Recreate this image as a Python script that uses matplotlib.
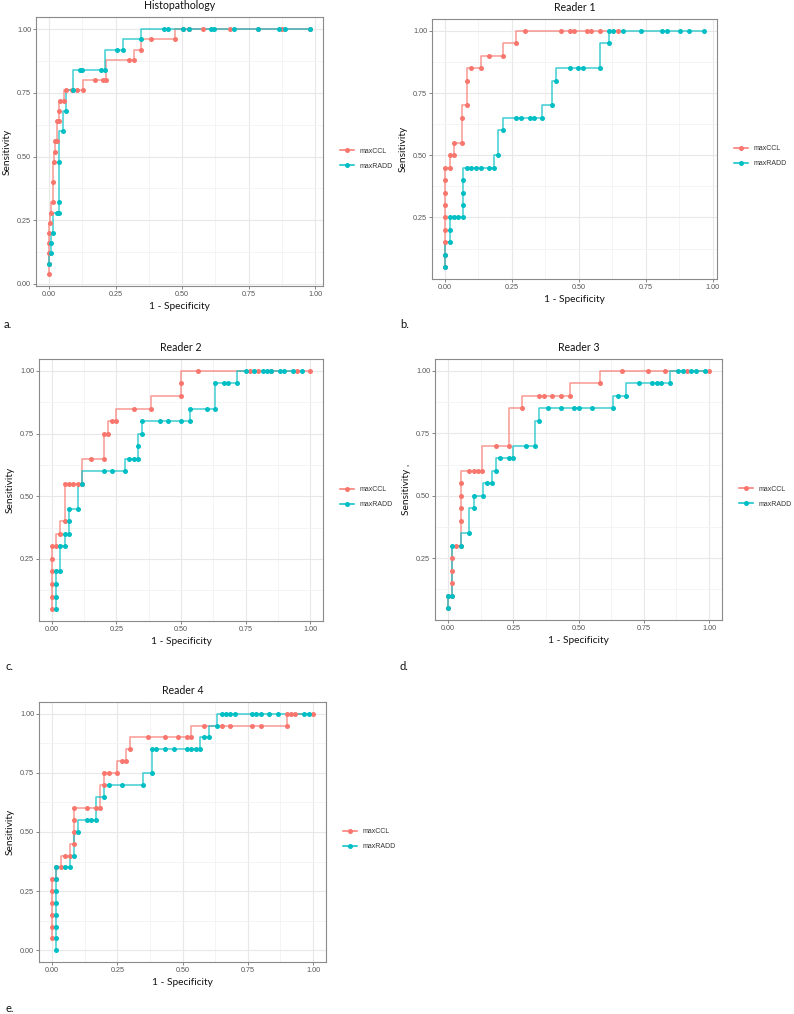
import matplotlib
matplotlib.use("Agg")
import matplotlib.pyplot as plt
from matplotlib.lines import Line2D
import numpy as np

# ---- data (1 - specificity, sensitivity) ----
hist_ccl_x = [0, 0, 0, 0, 0, 0.005, 0.008, 0.013, 0.015, 0.02, 0.021, 0.024, 0.028, 0.031, 0.036,
              0.036, 0.04, 0.055, 0.063, 0.086, 0.105, 0.127, 0.174, 0.203, 0.215, 0.30, 0.32,
              0.347, 0.384, 0.474, 0.503, 0.524, 0.578, 0.68, 0.786, 0.874, 0.98]
hist_ccl_y = [0.04, 0.08, 0.12, 0.16, 0.20, 0.24, 0.28, 0.32, 0.40, 0.48, 0.52, 0.56, 0.56, 0.64, 0.64,
              0.68, 0.72, 0.72, 0.76, 0.76, 0.76, 0.76, 0.80, 0.80, 0.80, 0.88, 0.88,
              0.92, 0.96, 0.96, 1, 1, 1, 1, 1, 1, 1]
hist_radd_x = [0, 0.006, 0.009, 0.014, 0.031, 0.036, 0.036, 0.036, 0.051, 0.065, 0.091, 0.118, 0.122,
               0.197, 0.209, 0.257, 0.279, 0.347, 0.433, 0.446, 0.503, 0.524, 0.608, 0.62, 0.696,
               0.786, 0.865, 0.886, 0.98]
hist_radd_y = [0.08, 0.12, 0.16, 0.20, 0.28, 0.28, 0.32, 0.48, 0.60, 0.68, 0.76, 0.84, 0.84,
               0.84, 0.84, 0.92, 0.92, 0.96, 1, 1, 1, 1, 1, 1, 1, 1, 1, 1, 1]

r1_ccl_x = [0, 0, 0, 0, 0, 0, 0, 0, 0, 0.017, 0.017, 0.033, 0.033, 0.065, 0.065, 0.084, 0.084,
            0.099, 0.133, 0.164, 0.216, 0.265, 0.30, 0.432, 0.465, 0.481, 0.53, 0.546, 0.58, 0.645]
r1_ccl_y = [0.05, 0.10, 0.15, 0.20, 0.25, 0.30, 0.35, 0.40, 0.45, 0.45, 0.50, 0.50, 0.55, 0.55, 0.65,
            0.70, 0.80, 0.85, 0.85, 0.90, 0.90, 0.95, 1, 1, 1, 1, 1, 1, 1, 1]
r1_radd_x = [0, 0, 0.017, 0.017, 0.017, 0.033, 0.049, 0.066, 0.066, 0.066, 0.066, 0.083, 0.099,
             0.116, 0.133, 0.166, 0.183, 0.199, 0.216, 0.266, 0.283, 0.316, 0.332, 0.364, 0.398,
             0.414, 0.465, 0.497, 0.514, 0.58, 0.613, 0.613, 0.629, 0.663, 0.73, 0.811, 0.829,
             0.878, 0.911, 0.967]
r1_radd_y = [0.05, 0.10, 0.15, 0.20, 0.25, 0.25, 0.25, 0.25, 0.30, 0.35, 0.40, 0.45, 0.45,
             0.45, 0.45, 0.45, 0.45, 0.50, 0.60, 0.65, 0.65, 0.65, 0.65, 0.65, 0.70,
             0.80, 0.85, 0.85, 0.85, 0.85, 0.95, 1, 1, 1, 1, 1, 1, 1, 1, 1]

r2_ccl_x = [0, 0, 0, 0, 0, 0, 0.017, 0.033, 0.05, 0.05, 0.067, 0.083, 0.10, 0.117, 0.15, 0.20,
            0.20, 0.217, 0.233, 0.25, 0.317, 0.383, 0.50, 0.50, 0.567, 0.767, 0.80, 0.85, 0.95, 1.0]
r2_ccl_y = [0.05, 0.10, 0.15, 0.20, 0.25, 0.30, 0.30, 0.35, 0.40, 0.55, 0.55, 0.55, 0.55, 0.55,
            0.65, 0.65, 0.75, 0.75, 0.80, 0.80, 0.85, 0.85, 0.90, 0.95, 1, 1, 1, 1, 1, 1]
r2_radd_x = [0.017, 0.017, 0.017, 0.017, 0.033, 0.033, 0.05, 0.05, 0.067, 0.067, 0.067, 0.10,
             0.117, 0.20, 0.233, 0.283, 0.30, 0.317, 0.333, 0.333, 0.35, 0.35, 0.417, 0.45,
             0.50, 0.533, 0.533, 0.60, 0.633, 0.633, 0.667, 0.683, 0.717, 0.75, 0.783, 0.817,
             0.833, 0.85, 0.883, 0.90, 0.933, 0.967]
r2_radd_y = [0.05, 0.10, 0.15, 0.20, 0.20, 0.30, 0.30, 0.35, 0.35, 0.40, 0.45, 0.45,
             0.55, 0.60, 0.60, 0.60, 0.65, 0.65, 0.65, 0.70, 0.75, 0.80, 0.80, 0.80,
             0.80, 0.80, 0.85, 0.85, 0.85, 0.95, 0.95, 0.95, 0.95, 1, 1, 1,
             1, 1, 1, 1, 1, 1]

r3_ccl_x = [0, 0, 0.016, 0.016, 0.016, 0.016, 0.032, 0.048, 0.048, 0.048, 0.048, 0.048, 0.082,
            0.098, 0.115, 0.131, 0.183, 0.233, 0.283, 0.35, 0.367, 0.40, 0.433, 0.467, 0.583,
            0.667, 0.767, 0.833, 0.917, 1.0]
r3_ccl_y = [0.05, 0.10, 0.10, 0.15, 0.20, 0.25, 0.30, 0.30, 0.40, 0.45, 0.50, 0.55, 0.60,
            0.60, 0.60, 0.60, 0.70, 0.70, 0.85, 0.90, 0.90, 0.90, 0.90, 0.90, 0.95,
            1, 1, 1, 1, 1]
r3_radd_x = [0, 0, 0.016, 0.016, 0.048, 0.082, 0.10, 0.10, 0.133, 0.15, 0.167, 0.183, 0.20, 0.233,
             0.25, 0.30, 0.333, 0.35, 0.383, 0.433, 0.483, 0.50, 0.55, 0.633, 0.65, 0.683, 0.733,
             0.783, 0.80, 0.817, 0.85, 0.883, 0.90, 0.933, 0.95, 0.983]
r3_radd_y = [0.05, 0.10, 0.10, 0.30, 0.30, 0.35, 0.45, 0.50, 0.50, 0.55, 0.55, 0.60, 0.65, 0.65,
             0.65, 0.70, 0.70, 0.80, 0.85, 0.85, 0.85, 0.85, 0.85, 0.85, 0.90, 0.90, 0.95,
             0.95, 0.95, 0.95, 0.95, 1, 1, 1, 1, 1]

r4_ccl_x = [0, 0, 0, 0, 0, 0, 0.017, 0.017, 0.033, 0.05, 0.067, 0.083, 0.083, 0.083, 0.083, 0.133,
            0.167, 0.183, 0.20, 0.20, 0.217, 0.25, 0.267, 0.283, 0.30, 0.367, 0.433, 0.483, 0.517,
            0.533, 0.583, 0.65, 0.683, 0.767, 0.80, 0.90, 0.90, 0.917, 0.933, 1.0]
r4_ccl_y = [0.05, 0.10, 0.15, 0.20, 0.25, 0.30, 0.30, 0.35, 0.35, 0.40, 0.40, 0.45, 0.50, 0.55, 0.60, 0.60,
            0.60, 0.60, 0.70, 0.75, 0.75, 0.75, 0.80, 0.80, 0.85, 0.90, 0.90, 0.90, 0.90,
            0.90, 0.95, 0.95, 0.95, 0.95, 0.95, 0.95, 1, 1, 1, 1]
r4_radd_x = [0.017, 0.017, 0.017, 0.017, 0.017, 0.017, 0.017, 0.017, 0.05, 0.067, 0.083, 0.10,
             0.133, 0.15, 0.167, 0.20, 0.217, 0.267, 0.35, 0.383, 0.383, 0.40, 0.433, 0.467,
             0.517, 0.533, 0.55, 0.567, 0.583, 0.60, 0.633, 0.65, 0.667, 0.683, 0.70, 0.767,
             0.783, 0.80, 0.833, 0.867, 0.967, 0.983]
r4_radd_y = [0.00, 0.05, 0.10, 0.15, 0.20, 0.25, 0.30, 0.35, 0.35, 0.35, 0.40, 0.50,
             0.55, 0.55, 0.55, 0.65, 0.70, 0.70, 0.70, 0.75, 0.85, 0.85, 0.85, 0.85,
             0.85, 0.85, 0.85, 0.85, 0.90, 0.90, 0.95, 1, 1, 1, 1, 1,
             1, 1, 1, 1, 1, 1]

titles = ["Histopathology", "Reader 1", "Reader 2", "Reader 3", "Reader 4"]
panel_letters = ["a.", "b.", "c.", "d.", "e."]
series_names = ["maxCCL", "maxRADD"]

RED = "#F8766D"
CYAN = "#00BFC4"
TXT = ["Lato", "DejaVu Sans"]
TICK = ["Liberation Sans", "DejaVu Sans"]

W, H = 794, 1014
fig = plt.figure(figsize=(W / 100, H / 100), dpi=100)


def px_axes(l, t, r, b):
    return fig.add_axes([l / W, 1 - b / H, (r - l) / W, (b - t) / H])


def roc_panel(ax, ccl, radd, title, ylabel="Sensitivity"):
    for (x, y), c in zip([ccl, radd], [RED, CYAN]):
        ax.step(x, y, where="pre", color=c, lw=1.1, alpha=0.75, zorder=3)
    for (x, y), c in zip([ccl, radd], [RED, CYAN]):
        ax.plot(x, y, "o", ms=3.6, color=c, mec="none", zorder=4)

    allx = np.concatenate([ccl[0], radd[0]])
    ally = np.concatenate([ccl[1], radd[1]])
    xlo, xhi = allx.min(), allx.max()
    ylo, yhi = ally.min(), ally.max()
    xlim = (xlo - 0.05 * (xhi - xlo), xhi + 0.05 * (xhi - xlo))
    ylim = (ylo - 0.05 * (yhi - ylo), yhi + 0.05 * (yhi - ylo))
    ax.set_xlim(xlim)
    ax.set_ylim(ylim)

    major = np.array([0, 0.25, 0.5, 0.75, 1.0])
    minor = np.array([0.125, 0.375, 0.625, 0.875])
    ax.set_xticks([t for t in major if xlim[0] <= t <= xlim[1]])
    ax.set_yticks([t for t in major if ylim[0] <= t <= ylim[1]])
    ax.set_xticks([t for t in minor if xlim[0] <= t <= xlim[1]], minor=True)
    ax.set_yticks([t for t in minor if ylim[0] <= t <= ylim[1]], minor=True)
    ax.xaxis.set_major_formatter(lambda v, p: f"{v:.2f}")
    ax.yaxis.set_major_formatter(lambda v, p: f"{v:.2f}")
    ax.grid(True, which="major", color="#e8e8e8", lw=0.8, zorder=0)
    ax.grid(True, which="minor", color="#f2f2f2", lw=0.6, zorder=0)
    ax.set_axisbelow(True)
    ax.tick_params(which="major", length=2, width=0.5, color="#555555", pad=1.5,
                   labelsize=5.2, labelcolor="#555555")
    ax.tick_params(which="minor", length=0)
    for lab in ax.get_xticklabels() + ax.get_yticklabels():
        lab.set_family(TICK)
    for s in ax.spines.values():
        s.set_color("#8a8a8a")
        s.set_linewidth(0.8)

    h_ax = ax.get_position().height * H
    w_ax = ax.get_position().width * W
    ax.text(0.5, 1 + 11.5 / h_ax, title, transform=ax.transAxes, ha="center", va="center",
            fontsize=7.6, family=TXT, color="#111111")
    ax.text(0.5, -20.5 / h_ax, "1 - Specificity", transform=ax.transAxes, ha="center",
            va="center", fontsize=7.3, family=TXT, color="#111111")
    ax.text(-29 / w_ax, 0.5, ylabel, transform=ax.transAxes, ha="center", va="center",
            rotation=90, fontsize=7.3, family=TXT, color="#111111")

    handles = [Line2D([], [], color=c, lw=1.1, marker="o", ms=3.6, mec="none")
               for c in [RED, CYAN]]
    leg = ax.legend(handles, series_names, loc="center left", bbox_to_anchor=(1.06, 0.473),
                    frameon=False, borderpad=0, borderaxespad=0, handlelength=2.0,
                    handletextpad=0.8, labelspacing=1.15,
                    prop={"family": TICK, "size": 5})
    for t in leg.get_texts():
        t.set_color("#333333")


boxes = [(36, 17, 323, 286), (432, 19, 717, 279), (39, 359, 323, 621),
         (435, 359, 722, 620), (39, 702, 326, 962)]
data = [((hist_ccl_x, hist_ccl_y), (hist_radd_x, hist_radd_y)),
        ((r1_ccl_x, r1_ccl_y), (r1_radd_x, r1_radd_y)),
        ((r2_ccl_x, r2_ccl_y), (r2_radd_x, r2_radd_y)),
        ((r3_ccl_x, r3_ccl_y), (r3_radd_x, r3_radd_y)),
        ((r4_ccl_x, r4_ccl_y), (r4_radd_x, r4_radd_y))]
ylabels = ["Sensitivity", "Sensitivity", "Sensitivity", "Sensitivity ,", "Sensitivity"]

for box, (ccl, radd), title, yl in zip(boxes, data, titles, ylabels):
    ax = px_axes(*box)
    roc_panel(ax, ccl, radd, title, yl)

letter_pos = [(4, 325), (400, 325), (6, 667), (400, 667), (6, 1008)]
for (px, py), letter in zip(letter_pos, panel_letters):
    fig.text(px / W, 1 - py / H, letter, ha="left", va="center", fontsize=8,
             family=TXT, color="#111111")

fig.savefig("out.png", dpi=100)
